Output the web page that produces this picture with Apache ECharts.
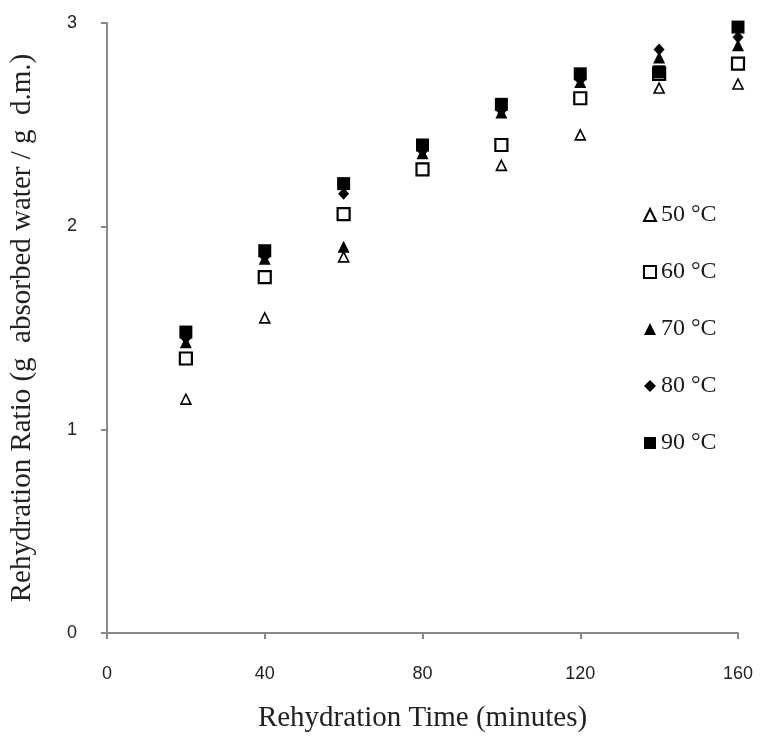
<!DOCTYPE html>
<html>
<head>
<meta charset="utf-8">
<script src="https://cdn.jsdelivr.net/npm/echarts@6/dist/echarts.min.js"></script>
<style>
  html, body { margin: 0; padding: 0; background: #fff; }
  #chart { width: 762px; height: 740px; }
</style>
</head>
<body>
<div id="chart"></div>
<script>
// rehydration time (minutes)
const times = [20, 40, 60, 80, 100, 120, 140, 160];
const xTicks = [0, 40, 80, 120, 160];
const yTicks = [0, 1, 2, 3];

// rehydration ratio per drying temperature
const t50 = [1.15, 1.55, 1.85, 2.28, 2.30, 2.45, 2.68, 2.70];
const t60 = [1.35, 1.75, 2.06, 2.28, 2.40, 2.63, 2.75, 2.80];
const t70 = [1.43, 1.84, 1.90, 2.36, 2.56, 2.71, 2.83, 2.89];
const t80 = [1.45, 1.85, 2.16, 2.37, 2.57, 2.72, 2.87, 2.93];
const t90 = [1.48, 1.88, 2.21, 2.40, 2.60, 2.75, 2.76, 2.98];

const labels = ['50 °C', '60 °C', '70 °C', '80 °C', '90 °C'];

const pairs = (vals) => times.map((t, i) => [t, vals[i]]);

const serif = 'Liberation Serif';
const sans = 'Liberation Sans';

const chart = echarts.init(document.getElementById('chart'));

chart.setOption({
  backgroundColor: '#fff',
  animation: false,
  grid: { left: 107, right: 24, top: 23, bottom: 107, outerBoundsMode: 'none' },
  legend: {
    orient: 'vertical',
    left: 638,
    top: 198,
    itemGap: 33,
    itemWidth: 12,
    itemHeight: 12,
    textStyle: { fontFamily: serif, fontSize: 24, color: '#1a1a1a' },
    data: labels
  },
  xAxis: {
    type: 'value',
    min: 0,
    max: 160,
    interval: 40,
    name: 'Rehydration Time (minutes)',
    nameLocation: 'middle',
    nameGap: 71,
    nameTextStyle: { fontFamily: serif, fontSize: 29, color: '#222' },
    axisLine: { show: true, lineStyle: { color: '#888', width: 2 } },
    axisTick: { show: true, length: 6, lineStyle: { color: '#888', width: 2 } },
    axisLabel: {
      margin: 32, fontFamily: sans, fontSize: 18, color: '#222',
      formatter: (v) => xTicks.includes(v) ? String(v) : ''
    },
    splitLine: { show: false }
  },
  yAxis: {
    type: 'value',
    min: 0,
    max: 3,
    interval: 1,
    name: 'Rehydration Ratio (g  absorbed water / g  d.m.)',
    nameLocation: 'middle',
    nameGap: 70,
    nameTextStyle: { fontFamily: serif, fontSize: 29, color: '#222' },
    axisLine: { show: true, lineStyle: { color: '#888', width: 2 } },
    axisTick: { show: true, length: 6, lineStyle: { color: '#888', width: 2 } },
    axisLabel: {
      margin: 30, fontFamily: sans, fontSize: 18, color: '#222',
      formatter: (v) => yTicks.includes(v) ? String(v) : ''
    },
    splitLine: { show: false }
  },
  series: [
    {
      name: labels[0], type: 'scatter', data: pairs(t50),
      symbol: 'triangle', symbolSize: 10,
      itemStyle: { color: '#fff', borderColor: '#000', borderWidth: 1.6, opacity: 1 }
    },
    {
      name: labels[1], type: 'scatter', data: pairs(t60),
      symbol: 'rect', symbolSize: 12,
      itemStyle: { color: '#fff', borderColor: '#000', borderWidth: 2.2, opacity: 1 }
    },
    {
      name: labels[2], type: 'scatter', data: pairs(t70),
      symbol: 'triangle', symbolSize: 12,
      itemStyle: { color: '#000', opacity: 1 }
    },
    {
      name: labels[3], type: 'scatter', data: pairs(t80),
      symbol: 'diamond', symbolSize: [11, 12],
      itemStyle: { color: '#000', opacity: 1 }
    },
    {
      name: labels[4], type: 'scatter', data: pairs(t90),
      symbol: 'rect', symbolSize: 13,
      itemStyle: { color: '#000', opacity: 1 }
    }
  ]
});
</script>
</body>
</html>
